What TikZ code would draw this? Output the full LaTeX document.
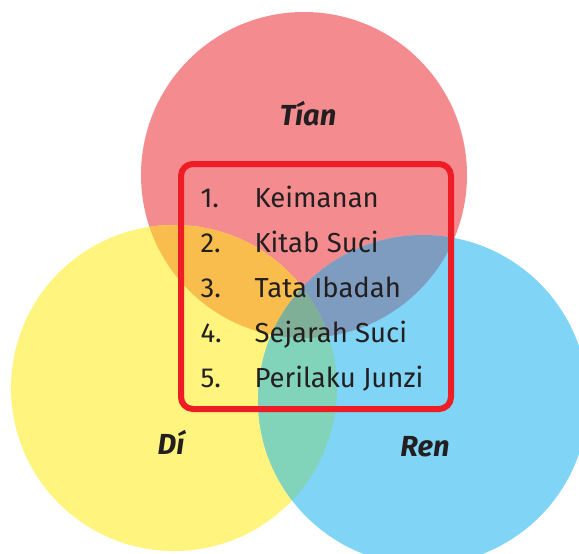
\documentclass[tikz,border=0pt]{standalone}
\usepackage{fontspec}
\setmainfont{Fira Sans}
\definecolor{tianred}{HTML}{F48C8F}
\definecolor{diyellow}{HTML}{FFF47E}
\definecolor{renblue}{HTML}{80D4F6}
\definecolor{tiandi}{HTML}{F9BD4D}
\definecolor{tianren}{HTML}{7D9CBF}
\definecolor{diren}{HTML}{81D3B9}
\definecolor{allthree}{HTML}{80AF98}
\definecolor{boxred}{HTML}{EE1C25}
\definecolor{inkdark}{HTML}{231F20}
\tikzset{
  setlabel/.style={anchor=base, text=inkdark, font=\fontsize{29}{31}\selectfont\bfseries\itshape},
  itemnum/.style={anchor=base west, text=inkdark, font=\fontsize{27.5}{30}\selectfont},
  itemtext/.style={anchor=base west, text=inkdark, font=\fontsize{27.5}{30}\selectfont},
  listbox/.style={draw=boxred, line width=6pt, rounded corners=12pt}
}
\begin{document}
\begin{tikzpicture}[x=1pt,y=-1pt]
  \useasboundingbox (0,0) rectangle (579,554);
  \def\tiancirc{(304,175) circle[radius=163pt]}
  \def\dicirc{(174,388) circle[radius=163pt]}
  \def\rencirc{(423,400) circle[radius=165pt]}

  % 三个圆
  \fill[tianred] \tiancirc;
  \fill[diyellow] \dicirc;
  \fill[renblue] \rencirc;

  % 两两相交
  \begin{scope}
    \clip \tiancirc;
    \fill[tiandi] \dicirc;
    \fill[tianren] \rencirc;
  \end{scope}
  \begin{scope}
    \clip \dicirc;
    \fill[diren] \rencirc;
  \end{scope}

  % 三者相交
  \begin{scope}
    \clip \tiancirc;
    \clip \dicirc;
    \fill[allthree] \rencirc;
  \end{scope}

  % 标签
  \node[setlabel] (tian) at (308,125) {Tían};
  \node[setlabel] (di) at (171,454) {Dí};
  \node[setlabel] (ren) at (425,456) {Ren};

  % 红色方框与列表
  \draw[listbox] (181,164) rectangle (451,409);
  \foreach \i/\t in {1/Keimanan, 2/Kitab Suci, 3/Tata Ibadah, 4/Sejarah Suci, 5/Perilaku Junzi} {
    \node[itemnum] (num\i) at (197,{207+45*(\i-1)}) {\i.};
    \node[itemtext] (item\i) at (251,{207+45*(\i-1)}) {\t};
  }
\end{tikzpicture}
\end{document}
